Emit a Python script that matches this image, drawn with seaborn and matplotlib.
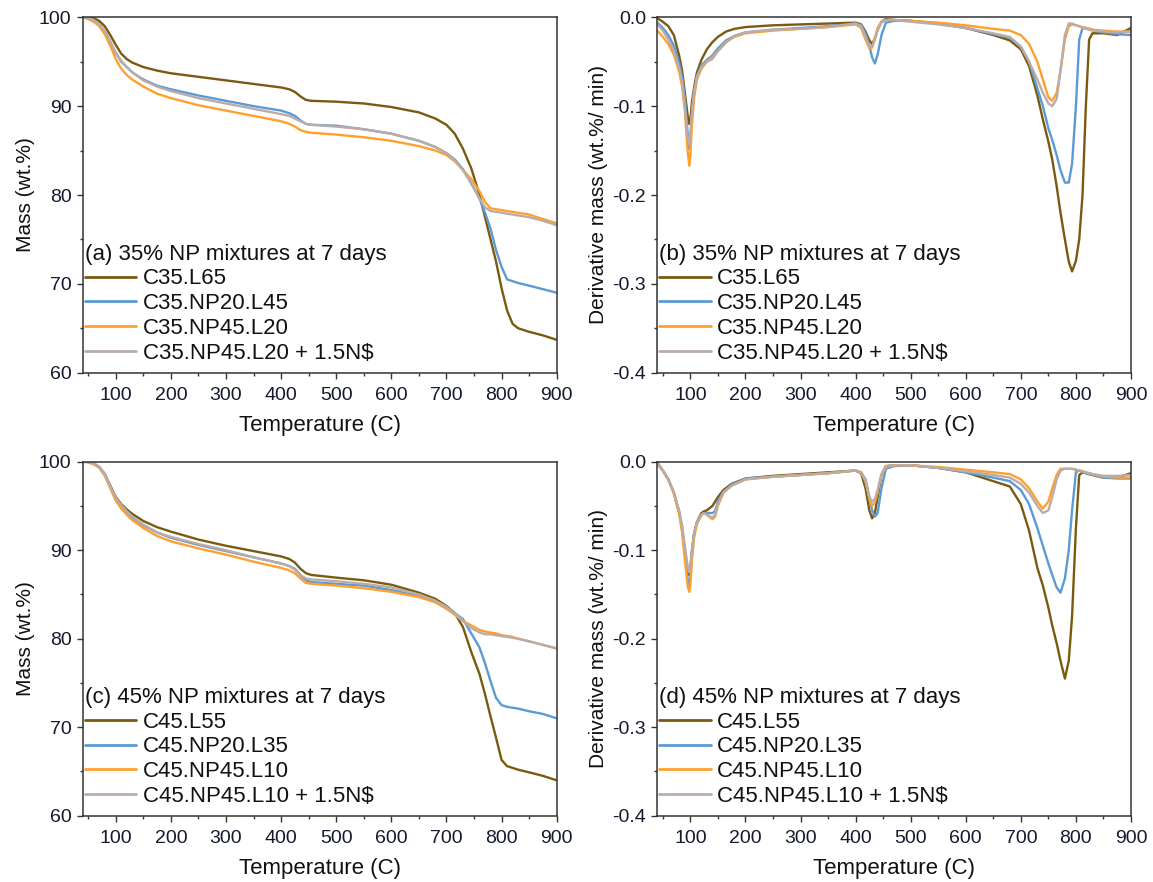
import numpy as np
import pandas as pd
import matplotlib
matplotlib.use("Agg")
import matplotlib.pyplot as plt
import seaborn as sns
from matplotlib.ticker import MultipleLocator, FormatStrFormatter

# ---------------- data ----------------
T_tg = [40, 50, 60, 70, 80, 90, 100, 110, 120, 130, 150, 175, 200, 250, 300, 350, 400,
        415, 425, 435, 445, 455, 500, 550, 600, 650, 680, 700, 715, 730, 745, 760, 770,
        780, 790, 800, 810, 820, 830, 850, 875, 900]

a_C35_L65 = [100, 100, 99.9, 99.6, 99.0, 98.0, 96.9, 95.9, 95.3, 94.9, 94.4, 94.0, 93.7,
             93.3, 92.9, 92.5, 92.1, 91.9, 91.6, 91.1, 90.7, 90.6, 90.5, 90.3, 89.9, 89.3,
             88.6, 87.9, 86.9, 85.2, 83.0, 80.0, 77.5, 75.0, 72.5, 69.5, 67.0, 65.5, 65.0,
             64.6, 64.2, 63.7]
a_C35_NP20_L45 = [100, 99.9, 99.7, 99.2, 98.4, 97.2, 96.0, 95.0, 94.4, 93.8, 93.0, 92.3,
                  91.9, 91.2, 90.6, 90.0, 89.5, 89.2, 88.9, 88.4, 88.0, 87.9, 87.8, 87.4,
                  86.9, 86.1, 85.4, 84.7, 84.0, 82.9, 81.3, 79.6, 78.0, 76.2, 73.8, 71.9,
                  70.5, 70.3, 70.1, 69.8, 69.4, 69.0]
a_C35_NP45_L20 = [100, 99.8, 99.5, 99.0, 98.1, 96.8, 95.3, 94.2, 93.5, 93.0, 92.2, 91.4,
                  90.9, 90.1, 89.5, 88.9, 88.3, 88.0, 87.7, 87.3, 87.1, 87.0, 86.8, 86.5,
                  86.1, 85.5, 85.0, 84.5, 83.8, 82.8, 81.8, 80.4, 79.2, 78.5, 78.4, 78.3,
                  78.2, 78.1, 78.0, 77.8, 77.3, 76.8]
a_C35_NP45_L20_NS = [100, 99.9, 99.7, 99.2, 98.5, 97.3, 96.0, 95.1, 94.4, 93.8, 92.9, 92.2,
                     91.7, 90.9, 90.3, 89.7, 89.1, 88.9, 88.6, 88.3, 88.0, 87.9, 87.7, 87.4,
                     86.9, 86.1, 85.4, 84.7, 83.9, 82.8, 81.3, 79.6, 78.6, 78.2, 78.1, 78.0,
                     77.9, 77.8, 77.7, 77.5, 77.1, 76.6]

c_C45_L55 = [100, 100, 99.8, 99.4, 98.6, 97.3, 96.0, 95.2, 94.6, 94.1, 93.3, 92.6, 92.1,
             91.2, 90.5, 89.9, 89.3, 89.0, 88.6, 87.9, 87.4, 87.2, 86.9, 86.6, 86.1, 85.2,
             84.5, 83.7, 82.9, 81.3, 78.5, 76.0, 73.7, 71.2, 68.8, 66.3, 65.6, 65.4, 65.2,
             64.9, 64.5, 64.0]
c_C45_NP20_L35 = [100, 100, 99.8, 99.4, 98.6, 97.2, 95.8, 95.0, 94.3, 93.7, 92.8, 92.0,
                  91.4, 90.6, 89.9, 89.2, 88.5, 88.2, 87.9, 87.2, 86.6, 86.4, 86.2, 86.0,
                  85.5, 84.8, 84.2, 83.4, 82.9, 82.2, 80.6, 79.0, 77.2, 75.2, 73.3, 72.5,
                  72.3, 72.2, 72.1, 71.8, 71.5, 71.0]
c_C45_NP45_L10 = [100, 99.9, 99.7, 99.3, 98.4, 97.0, 95.6, 94.7, 94.0, 93.4, 92.5, 91.6,
                  91.0, 90.2, 89.5, 88.7, 88.0, 87.7, 87.4, 86.8, 86.3, 86.2, 86.0, 85.7,
                  85.3, 84.7, 84.1, 83.4, 82.7, 82.0, 81.5, 81.0, 80.8, 80.7, 80.6, 80.4,
                  80.3, 80.2, 80.0, 79.7, 79.3, 78.9]
c_C45_NP45_L10_NS = [100, 100, 99.8, 99.4, 98.6, 97.2, 95.9, 95.1, 94.4, 93.8, 92.9, 92.0,
                     91.5, 90.7, 90.0, 89.2, 88.5, 88.2, 87.8, 87.2, 86.8, 86.7, 86.5, 86.2,
                     85.8, 85.0, 84.3, 83.6, 82.9, 82.0, 81.2, 80.7, 80.5, 80.5, 80.4, 80.3,
                     80.2, 80.1, 80.0, 79.7, 79.3, 78.9]

T_b = [40, 50, 60, 70, 80, 85, 90, 95, 98, 100, 103, 107, 112, 120, 130, 140, 150, 165, 180,
       200, 250, 300, 350, 400, 410, 418, 425, 430, 435, 440, 447, 455, 470, 500, 550, 600,
       650, 680, 700, 715, 730, 740, 750, 757, 765, 772, 780, 787, 793, 800, 806, 812, 818,
       824, 830, 850, 875, 900]

b_C35_L65 = [-0.001, -0.005, -0.01, -0.02, -0.044, -0.06, -0.085, -0.11, -0.12, -0.115,
             -0.095, -0.078, -0.062, -0.048, -0.036, -0.028, -0.022, -0.016, -0.013, -0.011,
             -0.009, -0.008, -0.007, -0.006, -0.008, -0.016, -0.026, -0.03, -0.024, -0.014,
             -0.005, -0.002, -0.003, -0.004, -0.007, -0.012, -0.02, -0.026, -0.036, -0.055,
             -0.088, -0.115, -0.14, -0.16, -0.19, -0.22, -0.25, -0.275, -0.286, -0.274,
             -0.25, -0.2, -0.1, -0.025, -0.018, -0.018, -0.02, -0.012]
b_C35_NP20_L45 = [-0.006, -0.012, -0.02, -0.032, -0.052, -0.068, -0.092, -0.13, -0.148, -0.14,
                  -0.11, -0.085, -0.066, -0.054, -0.048, -0.043, -0.035, -0.026, -0.021, -0.017,
                  -0.014, -0.012, -0.01, -0.007, -0.009, -0.018, -0.032, -0.045, -0.052, -0.042,
                  -0.02, -0.006, -0.004, -0.004, -0.007, -0.012, -0.019, -0.023, -0.033, -0.05,
                  -0.08, -0.1, -0.125, -0.138, -0.155, -0.172, -0.186, -0.186, -0.165, -0.1,
                  -0.025, -0.012, -0.012, -0.013, -0.014, -0.017, -0.019, -0.02]
b_C35_NP45_L20 = [-0.015, -0.022, -0.03, -0.042, -0.062, -0.078, -0.105, -0.15, -0.167, -0.155,
                  -0.12, -0.09, -0.07, -0.058, -0.05, -0.045, -0.038, -0.028, -0.022, -0.018,
                  -0.015, -0.013, -0.011, -0.008, -0.012, -0.025, -0.035, -0.034, -0.024, -0.012,
                  -0.005, -0.003, -0.003, -0.004, -0.006, -0.009, -0.013, -0.015, -0.02, -0.03,
                  -0.05, -0.07, -0.09, -0.094, -0.085, -0.06, -0.025, -0.01, -0.008, -0.009,
                  -0.01, -0.011, -0.012, -0.013, -0.014, -0.015, -0.016, -0.016]
b_C35_NP45_L20_NS = [-0.008, -0.015, -0.025, -0.038, -0.058, -0.072, -0.1, -0.135, -0.143, -0.13,
                     -0.105, -0.082, -0.067, -0.056, -0.05, -0.047, -0.038, -0.028, -0.021, -0.017,
                     -0.014, -0.013, -0.011, -0.007, -0.01, -0.022, -0.032, -0.033, -0.025, -0.014,
                     -0.006, -0.003, -0.003, -0.005, -0.008, -0.012, -0.018, -0.022, -0.033, -0.05,
                     -0.07, -0.085, -0.097, -0.1, -0.092, -0.06, -0.02, -0.007, -0.007, -0.009,
                     -0.01, -0.012, -0.013, -0.014, -0.015, -0.016, -0.017, -0.016]

T_d = [40, 50, 60, 70, 80, 85, 90, 95, 98, 100, 103, 107, 112, 120, 125, 130, 140, 145, 150,
       160, 175, 200, 250, 300, 350, 400, 410, 418, 425, 430, 435, 440, 447, 455, 470, 500,
       550, 600, 650, 680, 700, 715, 730, 740, 750, 757, 765, 772, 780, 787, 793, 800, 806,
       812, 818, 830, 850, 875, 900]

d_C45_L55 = [-0.001, -0.01, -0.02, -0.035, -0.058, -0.075, -0.1, -0.122, -0.128, -0.12,
             -0.1, -0.08, -0.068, -0.058, -0.056, -0.055, -0.05, -0.045, -0.04, -0.032,
             -0.025, -0.019, -0.016, -0.014, -0.012, -0.01, -0.013, -0.03, -0.055, -0.064,
             -0.058, -0.04, -0.015, -0.005, -0.004, -0.004, -0.007, -0.012, -0.022, -0.028,
             -0.048, -0.078, -0.12, -0.14, -0.165, -0.185, -0.205, -0.225, -0.245, -0.225,
             -0.175, -0.075, -0.015, -0.012, -0.013, -0.015, -0.018, -0.018, -0.013]
d_C45_NP20_L35 = [-0.002, -0.01, -0.02, -0.035, -0.058, -0.076, -0.105, -0.132, -0.14, -0.132,
                  -0.105, -0.082, -0.07, -0.06, -0.058, -0.058, -0.058, -0.056, -0.045, -0.034,
                  -0.026, -0.019, -0.017, -0.015, -0.013, -0.01, -0.012, -0.02, -0.04, -0.055,
                  -0.062, -0.058, -0.03, -0.008, -0.005, -0.004, -0.007, -0.012, -0.018, -0.022,
                  -0.032, -0.048, -0.075, -0.095, -0.115, -0.128, -0.142, -0.148, -0.132, -0.1,
                  -0.055, -0.012, -0.01, -0.011, -0.013, -0.015, -0.018, -0.019, -0.019]
d_C45_NP45_L10 = [-0.002, -0.01, -0.02, -0.036, -0.06, -0.08, -0.11, -0.14, -0.147, -0.14,
                  -0.11, -0.085, -0.07, -0.06, -0.058, -0.06, -0.065, -0.062, -0.05, -0.035,
                  -0.027, -0.02, -0.017, -0.015, -0.013, -0.01, -0.012, -0.022, -0.042, -0.05,
                  -0.046, -0.034, -0.015, -0.006, -0.004, -0.004, -0.006, -0.009, -0.012, -0.014,
                  -0.02, -0.03, -0.045, -0.053, -0.045, -0.03, -0.015, -0.008, -0.008, -0.008,
                  -0.008, -0.009, -0.01, -0.011, -0.012, -0.014, -0.017, -0.018, -0.018]
d_C45_NP45_L10_NS = [-0.002, -0.01, -0.02, -0.035, -0.056, -0.072, -0.095, -0.118, -0.125, -0.118,
                     -0.1, -0.08, -0.068, -0.06, -0.058, -0.06, -0.063, -0.06, -0.048, -0.035,
                     -0.027, -0.02, -0.017, -0.015, -0.013, -0.01, -0.012, -0.022, -0.04, -0.045,
                     -0.042, -0.032, -0.014, -0.005, -0.004, -0.004, -0.007, -0.011, -0.015, -0.018,
                     -0.025, -0.035, -0.05, -0.058, -0.055, -0.04, -0.02, -0.01, -0.008, -0.008,
                     -0.008, -0.009, -0.01, -0.011, -0.012, -0.014, -0.016, -0.016, -0.015]

labels_35 = ["C35.L65", "C35.NP20.L45", "C35.NP45.L20", "C35.NP45.L20 + 1.5N$"]
labels_45 = ["C45.L55", "C45.NP20.L35", "C45.NP45.L10", "C45.NP45.L10 + 1.5N$"]
titles = ["(a) 35% NP mixtures at 7 days", "(b) 35% NP mixtures at 7 days",
          "(c) 45% NP mixtures at 7 days", "(d) 45% NP mixtures at 7 days"]
colors = ["#7a5a10", "#5b9bd5", "#ffa02e", "#bcaca8"]

# ---------------- style ----------------
sns.set_theme(style="ticks")
plt.rcParams["font.family"] = ["Liberation Sans", "DejaVu Sans"]
plt.rcParams["axes.unicode_minus"] = False
plt.rcParams["text.parse_math"] = False

TICK_COLOR = "#141a2e"
TEXT_COLOR = "#111111"

fig = plt.figure(figsize=(11.53, 8.82), dpi=100)
W, H = 1153.0, 882.0
boxes = {
    "a": (82.7, 17.3, 556.7, 372.7),
    "b": (657.3, 17.3, 1131.0, 372.7),
    "c": (82.7, 461.7, 556.7, 815.7),
    "d": (657.3, 461.7, 1131.0, 815.7),
}

def make_ax(key):
    l, t, r, b = boxes[key]
    return fig.add_axes([l / W, 1 - b / H, (r - l) / W, (b - t) / H])

panels = [
    ("a", T_tg, [a_C35_L65, a_C35_NP20_L45, a_C35_NP45_L20, a_C35_NP45_L20_NS], labels_35, "tg"),
    ("b", T_b, [b_C35_L65, b_C35_NP20_L45, b_C35_NP45_L20, b_C35_NP45_L20_NS], labels_35, "dtg"),
    ("c", T_tg, [c_C45_L55, c_C45_NP20_L35, c_C45_NP45_L10, c_C45_NP45_L10_NS], labels_45, "tg"),
    ("d", T_d, [d_C45_L55, d_C45_NP20_L35, d_C45_NP45_L10, d_C45_NP45_L10_NS], labels_45, "dtg"),
]

for i, (key, T, series, labels, kind) in enumerate(panels):
    ax = make_ax(key)
    frames = []
    for lab, vals in zip(labels, series):
        frames.append(pd.DataFrame({"T": T, "v": vals, "s": lab}))
    df = pd.concat(frames, ignore_index=True)
    sns.lineplot(data=df, x="T", y="v", hue="s", hue_order=labels,
                 palette=colors, estimator=None, sort=False, lw=1.7, ax=ax)

    ax.set_xlim(40, 900)
    ax.xaxis.set_major_locator(MultipleLocator(100))
    ax.xaxis.set_minor_locator(MultipleLocator(50))
    ax.set_xticks([100, 200, 300, 400, 500, 600, 700, 800, 900])
    if kind == "tg":
        ax.set_ylim(60, 100)
        ax.yaxis.set_major_locator(MultipleLocator(10))
        ax.yaxis.set_minor_locator(MultipleLocator(5))
        ax.set_ylabel("Mass (wt.%)", fontsize=15, color=TEXT_COLOR, labelpad=3)
    else:
        ax.set_ylim(-0.4, 0.0)
        ax.yaxis.set_major_locator(MultipleLocator(0.1))
        ax.yaxis.set_minor_locator(MultipleLocator(0.05))
        ax.yaxis.set_major_formatter(FormatStrFormatter("%.1f"))
        ax.set_ylabel("Derivative mass (wt.%/ min)", fontsize=15, color=TEXT_COLOR, labelpad=3)
    ax.set_xlabel("Temperature (C)", fontsize=16, color=TEXT_COLOR, labelpad=8)

    for sp in ax.spines.values():
        sp.set_visible(True)
        sp.set_color("#333333")
        sp.set_linewidth(1.1)
    ax.tick_params(axis="both", which="major", direction="out", length=4, width=1.0,
                   color="#333333", labelsize=14, labelcolor=TICK_COLOR)
    ax.tick_params(axis="both", which="minor", direction="out", length=2.2, width=1.0,
                   color="#333333")
    ax.tick_params(axis="x", which="major", pad=6)
    ax.tick_params(axis="y", which="major", pad=4)
    ax.tick_params(top=False, right=False, which="both")

    handles, labs = ax.get_legend_handles_labels()
    leg = ax.legend(handles, labs, title=titles[i], loc="lower left",
                    bbox_to_anchor=(0.004, 0.025), borderaxespad=0.0, borderpad=0.0,
                    frameon=False, fontsize=16, title_fontsize=16,
                    handlelength=2.33, handletextpad=0.28, labelspacing=0.17,
                    alignment="left")
    for line in leg.get_lines():
        line.set_linewidth(2.0)
    for txt in leg.get_texts():
        txt.set_color(TEXT_COLOR)
    leg.get_title().set_color(TEXT_COLOR)

fig.savefig("out.png", dpi=100)
